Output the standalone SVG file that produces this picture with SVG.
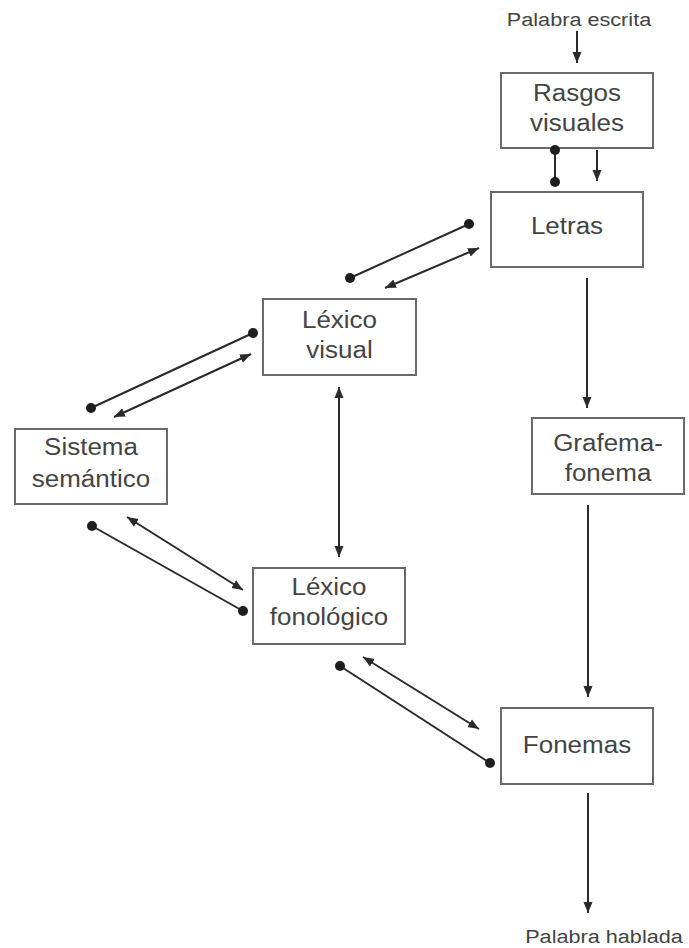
<svg xmlns="http://www.w3.org/2000/svg" width="689" height="948" viewBox="0 0 689 948">
<defs>
<marker id="ah" markerUnits="userSpaceOnUse" markerWidth="12" markerHeight="10" refX="11" refY="5" orient="auto-start-reverse" viewBox="0 0 12 10">
<path d="M0,0.5 L11,5 L0,9.5 z" fill="#2a2a2a"/>
</marker>
<style>
.box{fill:#fff;stroke:#6a6a6a;stroke-width:2}
.lbl{font-family:"Liberation Sans",Arial,sans-serif;font-size:23px;fill:#444;text-anchor:middle}
.sm{font-family:"Liberation Sans",Arial,sans-serif;font-size:19px;fill:#444;text-anchor:middle}
.ln{stroke:#2a2a2a;stroke-width:2;fill:none}
.ar{stroke:#2a2a2a;stroke-width:2;fill:none;marker-end:url(#ah)}
.ar2{stroke:#2a2a2a;stroke-width:2;fill:none;marker-end:url(#ah);marker-start:url(#ah)}
.dot{fill:#1e1e1e}
</style>
</defs>
<rect width="689" height="948" fill="#fff"/>

<g id="in-label"><text class="sm" transform="translate(579,26) scale(1.14,1)">Palabra escrita</text></g>
<g id="out-label"><text class="sm" transform="translate(604,943) scale(1.14,1)">Palabra hablada</text></g>

<g id="rasgos">
<rect class="box" x="501" y="73" width="152" height="75"/>
<text class="lbl" transform="translate(577,101) scale(1.13,1)">Rasgos</text>
<text class="lbl" transform="translate(577,131) scale(1.13,1)">visuales</text>
</g>
<g id="letras">
<rect class="box" x="491" y="192" width="152" height="75"/>
<text class="lbl" transform="translate(567,234) scale(1.13,1)">Letras</text>
</g>
<g id="grafema">
<rect class="box" x="532" y="418" width="152" height="76"/>
<text class="lbl" transform="translate(608,451) scale(1.13,1)">Grafema-</text>
<text class="lbl" transform="translate(608,481) scale(1.13,1)">fonema</text>
</g>
<g id="fonemas">
<rect class="box" x="501" y="708" width="152" height="76"/>
<text class="lbl" transform="translate(577,753) scale(1.13,1)">Fonemas</text>
</g>
<g id="lexico-visual">
<rect class="box" x="263" y="299" width="153" height="76"/>
<text class="lbl" transform="translate(339.5,328) scale(1.13,1)">Léxico</text>
<text class="lbl" transform="translate(339.5,358) scale(1.13,1)">visual</text>
</g>
<g id="sistema">
<rect class="box" x="15" y="429" width="152" height="75"/>
<text class="lbl" transform="translate(91,455) scale(1.13,1)">Sistema</text>
<text class="lbl" transform="translate(91,487) scale(1.13,1)">semántico</text>
</g>
<g id="lexico-fonologico">
<rect class="box" x="253" y="568" width="152" height="76"/>
<text class="lbl" transform="translate(329,595) scale(1.13,1)">Léxico</text>
<text class="lbl" transform="translate(329,625) scale(1.13,1)">fonológico</text>
</g>

<g id="connectors">
<line class="ar" x1="577" y1="31" x2="577" y2="63"/>
<line class="ln" x1="555" y1="150" x2="555" y2="182"/>
<circle class="dot" cx="555" cy="150" r="5"/>
<circle class="dot" cx="555" cy="182" r="5"/>
<line class="ar" x1="597" y1="150" x2="597" y2="181"/>
<line class="ar" x1="587" y1="278" x2="587" y2="408"/>
<line class="ar" x1="588" y1="505" x2="588" y2="697"/>
<line class="ar" x1="588" y1="793" x2="588" y2="913"/>

<line class="ln" x1="469" y1="224" x2="350" y2="278"/>
<circle class="dot" cx="469" cy="224" r="5"/>
<circle class="dot" cx="350" cy="278" r="5"/>
<line class="ar2" x1="479" y1="248" x2="385" y2="288"/>

<line class="ln" x1="253" y1="333" x2="91" y2="408"/>
<circle class="dot" cx="253" cy="333" r="5"/>
<circle class="dot" cx="91" cy="408" r="5"/>
<line class="ar2" x1="251" y1="354" x2="114" y2="417"/>

<line class="ar2" x1="339" y1="387" x2="339" y2="557"/>

<line class="ln" x1="92" y1="526" x2="243" y2="611"/>
<circle class="dot" cx="92" cy="526" r="5"/>
<circle class="dot" cx="243" cy="611" r="5"/>
<line class="ar2" x1="127" y1="517" x2="243" y2="590"/>

<line class="ln" x1="340" y1="666" x2="490" y2="763"/>
<circle class="dot" cx="340" cy="666" r="5"/>
<circle class="dot" cx="490" cy="763" r="5"/>
<line class="ar2" x1="363" y1="657" x2="479" y2="729"/>
</g>
</svg>
